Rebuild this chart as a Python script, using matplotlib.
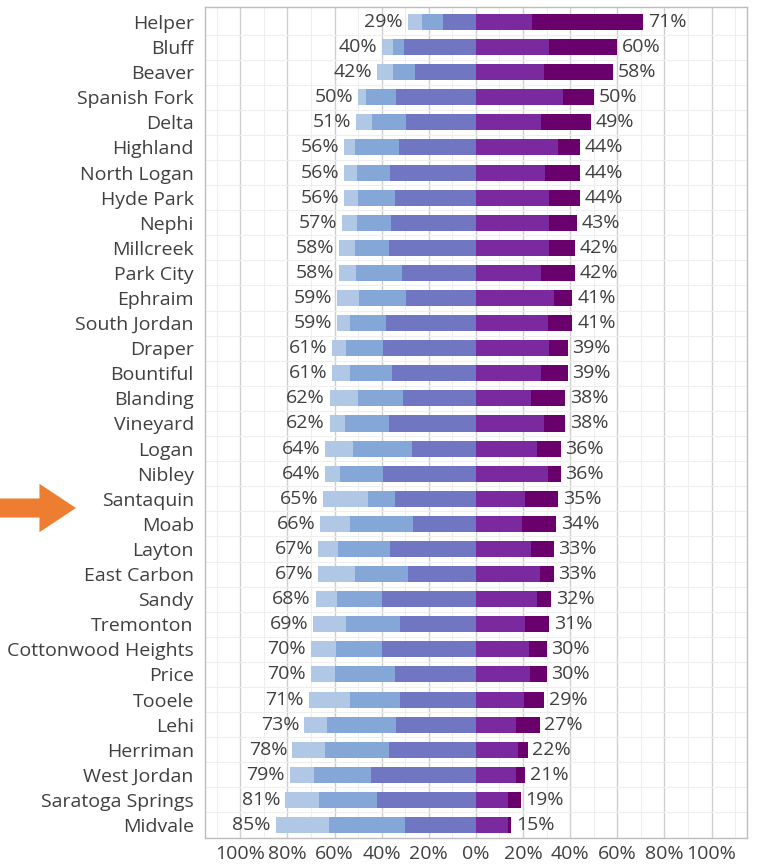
import matplotlib.pyplot as plt
from matplotlib.patches import FancyArrow
from matplotlib.ticker import MultipleLocator, FuncFormatter

cities = ["Helper", "Bluff", "Beaver", "Spanish Fork", "Delta", "Highland", "North Logan",
          "Hyde Park", "Nephi", "Millcreek", "Park City", "Ephraim", "South Jordan", "Draper",
          "Bountiful", "Blanding", "Vineyard", "Logan", "Nibley", "Santaquin", "Moab", "Layton",
          "East Carbon", "Sandy", "Tremonton", "Cottonwood Heights", "Price", "Tooele", "Lehi",
          "Herriman", "West Jordan", "Saratoga Springs", "Midvale"]

left_pct = [29, 40, 42, 50, 51, 56, 56, 56, 57, 58, 58, 59, 59, 61, 61, 62, 62, 64, 64, 65,
            66, 67, 67, 68, 69, 70, 70, 71, 73, 78, 79, 81, 85]
right_pct = [71, 60, 58, 50, 49, 44, 44, 44, 43, 42, 42, 41, 41, 39, 39, 38, 38, 36, 36, 35,
             34, 33, 33, 32, 31, 30, 30, 29, 27, 22, 21, 19, 15]

# left side, from the centre outwards
left_inner = [14, 30.5, 26, 34, 29.5, 32.5, 36.5, 34.5, 36, 37, 31.5, 29.5, 38, 39.5, 35.5, 31,
              37, 27, 39.5, 34.5, 26.5, 36.5, 29, 40, 32, 40, 34.5, 32, 34, 37, 44.5, 42, 30]
left_mid = [9, 4.5, 9, 12.5, 14.5, 19, 14, 15.5, 14.5, 14.5, 19.5, 20, 15.5, 15.5, 18, 19,
            18.5, 25, 18, 11.5, 27, 22, 22.5, 19, 23, 19.5, 25.5, 21.5, 29, 27, 24, 24.5, 32.5]
left_outer = [6, 5, 7, 3.5, 7, 4.5, 5.5, 6, 6.5, 6.5, 7, 9.5, 5.5, 6, 7.5, 12, 6.5, 12, 6.5,
              19, 12.5, 8.5, 15.5, 9, 14, 10.5, 10, 17.5, 10, 14, 10.5, 14.5, 22.5]

# right side, from the centre outwards
right_inner = [24, 31, 29, 37, 27.5, 35, 29.5, 31, 31, 31, 27.5, 33, 30.5, 31, 27.5, 23.5, 29,
               26, 30.5, 21, 19.5, 23.5, 27, 26, 21, 22.5, 23, 20.5, 17, 18, 17, 13.5, 13.5]
right_outer = [47, 29, 29, 13, 21.5, 9, 14.5, 13, 12, 11, 14.5, 8, 10.5, 8, 11.5, 14.5, 9, 10,
               5.5, 14, 14.5, 9.5, 6, 6, 10, 7.5, 7, 8.5, 10, 4, 4, 5.5, 1.5]

plt.rcParams['font.family'] = ['Open Sans', 'DejaVu Sans']
text_col = '#404040'
fs = 14

fig = plt.figure(figsize=(7.59, 8.64), dpi=100)
ax = fig.add_axes([0.270, 0.030, 0.714, 0.962])

y = list(range(len(cities)))
h = 0.64

ax.barh(y, [-v for v in left_inner], height=h, color='#7176c3', zorder=3)
start = [-v for v in left_inner]
ax.barh(y, [-v for v in left_mid], left=start, height=h, color='#84a7d7', zorder=3)
start = [s - m for s, m in zip(start, left_mid)]
ax.barh(y, [-v for v in left_outer], left=start, height=h, color='#b0c8e6', zorder=3)
left_end = [s - o for s, o in zip(start, left_outer)]

ax.barh(y, right_inner, height=h, color='#7a2a9e', zorder=3)
ax.barh(y, right_outer, left=right_inner, height=h, color='#6a006c', zorder=3)
right_end = [a + b for a, b in zip(right_inner, right_outer)]

for i in y:
    ax.text(left_end[i] - 2, i, f"{left_pct[i]}%", ha='right', va='center',
            fontsize=fs, color=text_col, zorder=4)
    ax.text(right_end[i] + 2, i, f"{right_pct[i]}%", ha='left', va='center',
            fontsize=fs, color=text_col, zorder=4)

ax.set_xlim(-115, 115)
ax.set_ylim(len(cities) - 0.48, -0.6)
ax.set_yticks(y)
ax.set_yticklabels(cities, fontsize=fs, color=text_col)
ax.xaxis.set_major_locator(MultipleLocator(20))
ax.xaxis.set_minor_locator(MultipleLocator(10))
ax.set_yticks([i + 0.5 for i in y], minor=True)
ax.xaxis.set_major_formatter(FuncFormatter(lambda v, p: f"{abs(int(round(v)))}%"))
ax.tick_params(axis='x', labelsize=fs, colors=text_col, length=0, pad=5)
ax.tick_params(axis='y', length=0, pad=8)
ax.tick_params(which='minor', length=0)

ax.grid(axis='x', which='major', color='#cfcfcf', lw=1.0, zorder=0)
ax.grid(axis='both', which='minor', color='#eeeeee', lw=0.8, zorder=0)
ax.set_axisbelow(True)
for s in ax.spines.values():
    s.set_color('#bdbdbd')
    s.set_linewidth(1.0)

# orange arrow pointing at Santaquin
arrow = FancyArrow(0.0, 1 - 508 / 864, 0.100, 0, width=0.022, head_width=0.056,
                   head_length=0.048, length_includes_head=True,
                   transform=fig.transFigure, color='#ed7d31', lw=0)
fig.patches.append(arrow)

fig.savefig('out.png', dpi=100)
